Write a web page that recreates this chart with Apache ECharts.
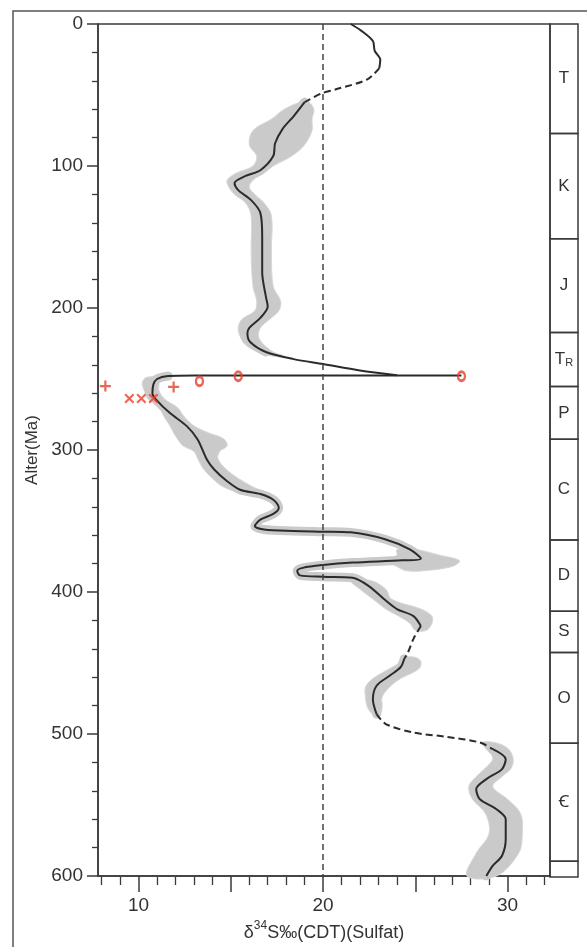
<!DOCTYPE html>
<html>
<head>
<meta charset="utf-8">
<script src="https://cdn.jsdelivr.net/npm/echarts@6/dist/echarts.min.js"></script>
<style>
html,body{margin:0;padding:0;background:#fff;}
#chart{width:587px;height:947px;}
</style>
</head>
<body>
<div id="chart"></div>
<script>
// ---- data: [δ34S (‰), age (Ma)] ----
const curveSeg1 = [[21.5,0],[22.1,5],[22.7,12],[22.8,19],[23.1,25],[23.05,31]];            // solid
const curveSeg2 = [[23.05,31],[22.4,39],[20.7,46],[19.9,49],[19.0,55]];                      // dashed
const curveSeg3 = [[19.0,55],[18.4,65],[17.8,74],[17.4,84],[17.3,93],[16.6,103],[15.8,107],[15.2,112],[15.4,117],[16.1,124],[16.6,133],[16.7,150],[16.7,175],[16.9,192],[17.0,199],[16.6,207],[16.0,214],[15.9,218],[16.05,224],[16.9,231],[18.4,236],[20.0,239.5],[22.0,244],[24.0,247.3]];
const curveSeg4 = [[27.5,247.5],[20,247.5],[13,247.5],[11.6,247.9],[11.0,250],[10.8,254],[10.75,260],[10.95,264.5],[11.7,274],[12.6,283],[13.2,292.6],[13.7,306.7],[14.1,313.7],[14.8,322],[15.5,328],[16.6,331],[17.3,335],[17.6,340.6],[17.3,345],[16.6,349],[16.3,353.6],[16.8,356],[18.4,357],[20.0,357.5],[21.5,358],[23.4,363],[24.7,370],[25.3,376.5],[24.3,377.7],[21.6,379.3],[20.0,381],[18.9,383],[18.6,385.2],[18.75,388.3],[20.0,389.2],[21.6,390],[22.5,396],[23.3,405],[24.0,412],[24.9,417],[25.3,424]];
const curveSeg5 = [[25.3,424],[24.9,433],[24.6,442.6],[24.4,447]];                           // dashed
const curveSeg6 = [[24.4,447],[24.2,453],[23.6,459],[22.9,466],[22.7,475.5],[22.9,486]];
const curveSeg7 = [[22.9,486],[23.4,493],[24.9,499],[26.7,502],[28.5,506],[29.2,510.7]];     // dashed
const curveSeg8 = [[29.2,510.7],[29.9,517.7],[29.7,524.7],[28.85,531.8],[28.3,538.8],[28.5,546],[29.4,553],[29.9,560],[29.9,574],[29.7,585.7],[29.2,592.7],[28.85,600]];

// uncertainty envelope: [age, low δ34S, high δ34S]
const bandA = [[55,18.8,19.2],[60,17.9,19.5],[67,17.2,19.4],[75,16.2,19.4],[85,16.0,19.0],[93,16.4,18.3],[100,16.2,17.3],[105,15.3,16.8],[110,14.8,16.2],[115,14.9,16.0],[120,15.2,16.3],[126,15.8,16.8],[135,16.1,17.2],[160,16.1,17.2],[185,16.2,17.3],[195,16.4,17.7],[202,16.3,17.6],[208,15.6,17.1],[214,15.4,16.6],[220,15.5,16.5],[226,15.8,16.8],[231,16.5,17.3],[234,17.3,17.9]];
const bandB = [[249,10.4,11.0],[253,10.2,11.1],[258,10.3,11.1],[264,10.5,11.4],[270,11.1,12.1],[277,11.4,12.5],[283,11.7,13.0],[288,11.9,13.8],[292,12.1,14.6],[297,12.4,14.8],[301,13.0,14.4],[306,13.2,14.3],[313,13.5,14.7],[320,14.0,15.4],[326,14.6,16.2],[329,15.3,16.6]];
const bandD = [[370,24.0,25.0],[374,24.0,26.3],[378,23.5,27.4],[382,24.0,27.0],[385,24.5,25.5]];
const bandS = [[392,21.5,22.6],[398,22.0,23.4],[405,22.7,23.7],[412,23.4,25.3],[417,24.1,25.9],[422,24.7,25.9],[427,25.0,25.6]];
const bandO = [[446,24.5,25.0],[449,24.3,25.3],[454,23.6,25.2],[461,22.7,24.2],[467,22.3,23.6],[474,22.3,23.2],[481,22.4,23.2],[486,22.7,23.1]];
const bandC = [[506,28.6,29.3],[510,28.8,30.0],[517,29.2,30.3],[524,28.8,30.2],[530,28.3,29.7],[537,27.9,29.2],[546,28.1,30.0],[556,28.8,30.7],[570,29.0,30.8],[584,28.3,30.6],[600,27.8,29.4]];

// red sample markers [δ34S, age]
const plusMarks = [[8.2,255],[11.9,255.6]];
const crossMarks = [[9.5,263.8],[10.15,263.8],[10.8,263.8]];
const circleMarks = [[13.3,251.6],[15.4,248],[27.5,248]];

const refValue = 20;

// axis ticks
const xMajorTicks = [10,15,20,25,30];
const xLabelTicks = [10,20,30];
const xMinorTicks = [8,9,11,12,13,14,16,17,18,19,21,22,23,24,26,27,28,29,31,32];

// geologic periods
const periodStart = [0,77,151,217,255,292,363,413,442,506,589];
const periodEnd   = [77,151,217,255,292,363,413,442,506,589,600];
const periodLabel = ['T','K','J','Tr','P','C','D','S','O','Ꞓ',''];

// ---- chart ----
const FONT = '"Liberation Sans", Arial, "Noto Sans", "DejaVu Sans", sans-serif';
const INK = '#3a3a3a';
const RED = '#e4412d';
const chart = echarts.init(document.getElementById('chart'), null, {renderer:'canvas'});

const bands = [bandA, bandB, bandD, bandS, bandO, bandC];
const lineStyleSolid = {color:'#2b2b2b', width:2};
const lineStyleDash = {color:'#2b2b2b', width:2, type:[7,4]};
const underStyle = {color:'#cacaca', width:9, cap:'round', join:'round'};

function lineSeries(data, style, z){
  return {type:'line', xAxisIndex:0, yAxisIndex:0, data:data, symbol:'none', smooth:0.3,
          lineStyle:style, z:z, silent:true, animation:false};
}

const plotGrid = {left:98, right:37, top:24, bottom:70};

const option = {
  animation:false,
  backgroundColor:'#ffffff',
  textStyle:{fontFamily:FONT},
  graphic:[{type:'rect', shape:{x:13, y:11, width:700, height:1000}, style:{fill:'none', stroke:'#555', lineWidth:1.5}, silent:true, z:-10}],
  grid:[
    Object.assign({show:true, borderColor:INK, borderWidth:1.5, backgroundColor:'transparent'}, plotGrid),
    {left:550, right:9, top:24, bottom:70, show:false},
    Object.assign({show:false}, plotGrid)
  ],
  xAxis:[
    {type:'value', gridIndex:0, position:'bottom', min:7.8, max:32.3,
     axisLine:{show:true, onZero:false, lineStyle:{color:INK, width:1.5}},
     axisTick:{show:true, customValues:xMajorTicks, length:16, inside:false, lineStyle:{color:INK, width:1.5}},
     axisLabel:{show:true, customValues:xLabelTicks, margin:20, fontSize:19, color:'#333', fontFamily:FONT},
     splitLine:{show:false},
     name:'{d|δ}{s|34}{d|S‰(CDT)(Sulfat)}', nameLocation:'middle', nameGap:44,
     nameTextStyle:{fontFamily:FONT, color:'#333', rich:{
       d:{fontSize:18, fontFamily:FONT, color:'#333', lineHeight:22, verticalAlign:'bottom'},
       s:{fontSize:12, fontFamily:FONT, color:'#333', lineHeight:12, verticalAlign:'top'}
     }}
    },
    {type:'value', gridIndex:1, min:0, max:1, show:false},
    {type:'value', gridIndex:2, position:'bottom', min:7.8, max:32.3,
     axisLine:{show:false, onZero:false},
     axisTick:{show:true, customValues:xMinorTicks, length:8, inside:false, lineStyle:{color:INK, width:1.3}},
     axisLabel:{show:false}, splitLine:{show:false}}
  ],
  yAxis:[
    {type:'value', gridIndex:0, inverse:true, min:0, max:600, interval:100,
     axisLine:{show:true, onZero:false, lineStyle:{color:INK, width:1.5}},
     axisTick:{show:true, length:11, lineStyle:{color:INK, width:1.5}},
     minorTick:{show:true, splitNumber:5, length:6, lineStyle:{color:INK, width:1.3}},
     axisLabel:{fontSize:19, color:'#333', margin:15, fontFamily:FONT},
     splitLine:{show:false}, minorSplitLine:{show:false},
     name:'Alter(Ma)', nameLocation:'middle', nameGap:57, nameRotate:90,
     nameTextStyle:{fontSize:17, color:'#333', fontFamily:FONT}
    },
    {type:'value', gridIndex:1, inverse:true, min:0, max:600, show:false},
    {type:'value', gridIndex:2, inverse:true, min:0, max:600, show:false}
  ],
  series:[
    // uncertainty envelopes
    {type:'custom', xAxisIndex:0, yAxisIndex:0, z:1, silent:true, animation:false,
     data: bands.map((b,i)=>[b[0][1], b[0][0], i]),
     renderItem:function(params, api){
       const b = bands[api.value(2)];
       const left = b.map(p=>api.coord([p[1], p[0]]));
       const right = b.map(p=>api.coord([p[2], p[0]])).reverse();
       return {type:'polygon', shape:{points:left.concat(right), smooth:0.35},
               style:{fill:'#cacaca', stroke:'#d8d8d8', lineWidth:1}};
     }},
    // band underlay along curve
    lineSeries(curveSeg3.filter(p=>p[1]<=234), underStyle, 1),
    lineSeries(curveSeg4.slice(3), underStyle, 1),
    lineSeries(curveSeg6, underStyle, 1),
    lineSeries(curveSeg8, underStyle, 1),
    // reference line
    {type:'line', xAxisIndex:0, yAxisIndex:0, data:[], z:2, silent:true,
     markLine:{silent:true, symbol:['none','none'], label:{show:false}, animation:false,
       lineStyle:{color:'#444', width:1.5, type:[6,4]}, data:[{xAxis:refValue}]}},
    // main curve
    lineSeries(curveSeg1, lineStyleSolid, 3),
    lineSeries(curveSeg2, lineStyleDash, 3),
    lineSeries(curveSeg3, lineStyleSolid, 3),
    lineSeries(curveSeg4, lineStyleSolid, 3),
    lineSeries(curveSeg5, lineStyleDash, 3),
    lineSeries(curveSeg6, lineStyleSolid, 3),
    lineSeries(curveSeg7, lineStyleDash, 3),
    lineSeries(curveSeg8, lineStyleSolid, 3),
    // red markers
    {type:'scatter', xAxisIndex:0, yAxisIndex:0, data:plusMarks, z:5, silent:true,
     symbol:'path://M4,0H6V4H10V6H6V10H4V6H0V4H4Z', symbolSize:11, itemStyle:{color:RED}},
    {type:'scatter', xAxisIndex:0, yAxisIndex:0, data:crossMarks, z:5, silent:true,
     symbol:'path://M0,1.5L1.5,0L5,3.5L8.5,0L10,1.5L6.5,5L10,8.5L8.5,10L5,6.5L1.5,10L0,8.5L3.5,5Z', symbolSize:10, itemStyle:{color:RED}},
    {type:'scatter', xAxisIndex:0, yAxisIndex:0, data:circleMarks, z:5, silent:true,
     symbol:'circle', symbolSize:[7,9], itemStyle:{color:'rgba(0,0,0,0)', borderColor:RED, borderWidth:2.6}},
    // period column
    {type:'custom', xAxisIndex:1, yAxisIndex:1, z:2, silent:true, animation:false,
     data: periodLabel.map((l,i)=>[0, periodStart[i], i]),
     renderItem:function(params, api){
       const i = api.value(2);
       const p1 = api.coord([0, periodStart[i]]);
       const p2 = api.coord([1, periodEnd[i]]);
       const lbl = periodLabel[i];
       const children = [{type:'rect', shape:{x:p1[0], y:p1[1], width:p2[0]-p1[0], height:p2[1]-p1[1]},
                          style:{fill:'none', stroke:INK, lineWidth:1.5}}];
       if (lbl) {
         const txt = lbl==='Tr' ? '{a|T}{b|R}' : lbl;
         children.push({type:'text', style:{text:txt, x:(p1[0]+p2[0])/2, y:(p1[1]+p2[1])/2,
           align:'center', verticalAlign:'middle', fontSize:17, fill:'#333', fontFamily:FONT,
           rich:{a:{fontSize:17, fill:'#333', fontFamily:FONT, lineHeight:18, verticalAlign:'top'},
                 b:{fontSize:11, fill:'#333', fontFamily:FONT, lineHeight:14, verticalAlign:'bottom'}}}});
       }
       return {type:'group', children:children};
     }}
  ]
};
chart.setOption(option);
</script>
</body>
</html>
